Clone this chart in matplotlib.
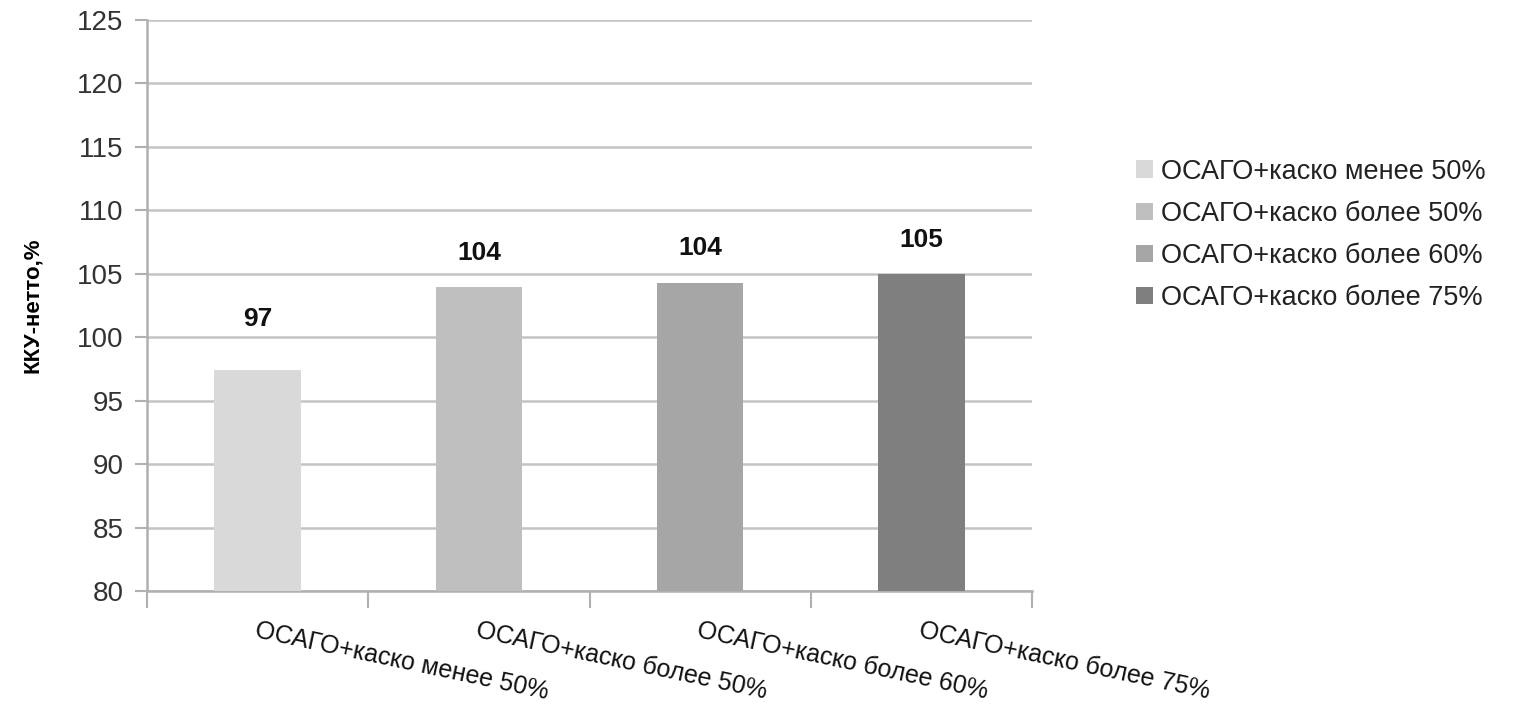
import matplotlib.pyplot as plt
import numpy as np

labels = ['ОСАГО+каско менее 50%', 'ОСАГО+каско более 50%',
          'ОСАГО+каско более 60%', 'ОСАГО+каско более 75%']
values = [97.4, 103.95, 104.3, 104.95]
value_labels = ['97', '104', '104', '105']
colors = ['#d9d9d9', '#bfbfbf', '#a6a6a6', '#7f7f7f']
label_pads = [28, 16, 16, 16]

plt.rcParams['font.family'] = ['Liberation Sans', 'DejaVu Sans']

x = np.arange(len(labels))  # category positions
width = 0.39

fig = plt.figure(figsize=(15.18, 7.15), dpi=100)
ax = fig.add_axes([0.0968, 0.1734, 0.5832, 0.7986])

for i in range(len(labels)):
    b = ax.bar(x[i], values[i], width, bottom=0, color=colors[i], label=labels[i], zorder=3)
    ax.bar_label(b, labels=[value_labels[i]], padding=label_pads[i], fontsize=19,
                 fontweight='bold', color='#111111')

ax.set_ylim(80, 125)
ax.set_xlim(-0.5, len(labels) - 0.5)
ax.set_yticks(np.arange(80, 126, 5))
ax.yaxis.grid(True, color='#c4c4c4', linewidth=1.8, zorder=0)

# category labels under the centres, ticks on the boundaries
ax.set_xticks(x)
ax.set_xticklabels(labels, rotation=-12, ha='left', va='top', rotation_mode='anchor',
                   fontsize=18, color='#111111')
ax.tick_params(axis='x', which='major', length=0, pad=20)
ax.set_xticks(np.arange(-0.5, len(labels), 1), minor=True)
ax.tick_params(axis='x', which='minor', length=12, color='#b0b0b0', width=1.5)
ax.tick_params(axis='y', length=9, color='#b0b0b0', width=1.5, labelsize=20,
               labelcolor='#333333', pad=8)

for s in ['top', 'right']:
    ax.spines[s].set_visible(False)
for s in ['left', 'bottom']:
    ax.spines[s].set_color('#b0b0b0')
    ax.spines[s].set_linewidth(1.8)

ax.set_ylabel('ККУ-нетто,%', fontsize=16, fontweight='bold', labelpad=24)

ax.legend(loc='upper left', bbox_to_anchor=(1.09, 0.80), frameon=False, fontsize=19.5,
          handlelength=0.6, handleheight=0.6, handletextpad=0.3, labelspacing=0.6,
          labelcolor='#222222')

fig.savefig('out.png', dpi=100)
